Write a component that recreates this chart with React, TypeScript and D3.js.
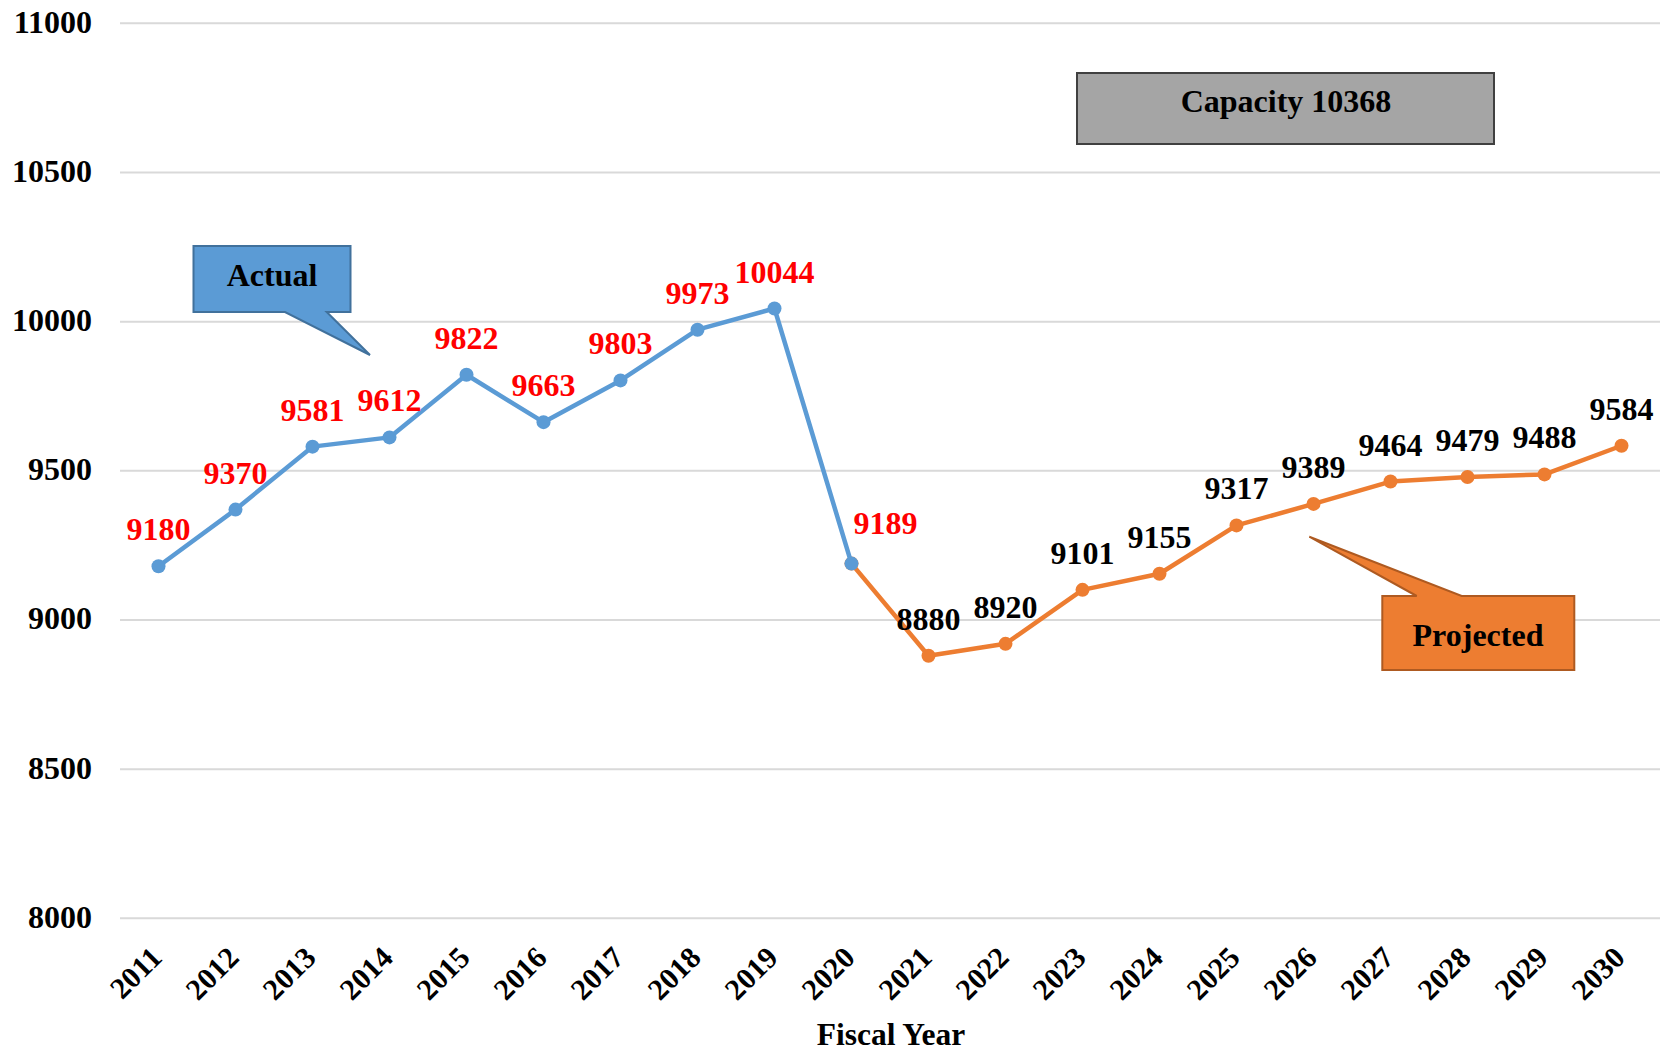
import React from "react";
import * as d3 from "d3";

const years = ["2011","2012","2013","2014","2015","2016","2017","2018","2019","2020","2021","2022","2023","2024","2025","2026","2027","2028","2029","2030"];
const actualYears = ["2011","2012","2013","2014","2015","2016","2017","2018","2019","2020"];
const actualValues = [9180, 9370, 9581, 9612, 9822, 9663, 9803, 9973, 10044, 9189];
const projectedYears = ["2020","2021","2022","2023","2024","2025","2026","2027","2028","2029","2030"];
const projectedValues = [9189, 8880, 8920, 9101, 9155, 9317, 9389, 9464, 9479, 9488, 9584];
const yTicks = [8000, 8500, 9000, 9500, 10000, 10500, 11000];
const capacityLabel = "Capacity 10368";
const xTitle = "Fiscal Year";

const FONT = "'Liberation Serif', 'Times New Roman', serif";
const BLUE = "#5B9BD5";
const ORANGE = "#ED7D31";

export default function App() {
  const W = 1669, H = 1052;
  const left = 120, right = 1660, top = 23.3, bottom = 918.3;
  const x = d3.scaleBand<string>().domain(years).range([left, right]).padding(0);
  const cx = (yr: string) => (x(yr) as number) + x.bandwidth() / 2;
  const y = d3.scaleLinear().domain([8000, 11000]).range([bottom, top]);

  const actual = actualYears.map((yr, i) => ({ yr, v: actualValues[i] }));
  const projected = projectedYears.map((yr, i) => ({ yr, v: projectedValues[i] }));
  const line = d3.line<{ yr: string; v: number }>().x(d => cx(d.yr)).y(d => y(d.v));

  return (
    <svg width={W} height={H} style={{ position: "absolute", left: 0, top: 0, background: "#fff" }} fontFamily={FONT}>
      {yTicks.map(t => (
        <g key={t}>
          <line x1={left} x2={right} y1={y(t)} y2={y(t)} stroke="#D9D9D9" strokeWidth={2} />
          <text x={92} y={y(t) + 9.5} textAnchor="end" fontSize={32} fontWeight="bold">{t}</text>
        </g>
      ))}
      {years.map(yr => (
        <text key={yr} transform={`translate(${cx(yr) + 5},${bottom + 41}) rotate(-45)`} textAnchor="end" fontSize={30} fontWeight="bold">{yr}</text>
      ))}
      <text x={891} y={1045} textAnchor="middle" fontSize={31.5} fontWeight="bold">{xTitle}</text>

      <path d={line(projected) as string} fill="none" stroke={ORANGE} strokeWidth={4.5} strokeLinejoin="round" />
      {projected.map(d => (
        <circle key={"p" + d.yr} cx={cx(d.yr)} cy={y(d.v)} r={7} fill={ORANGE} />
      ))}
      <path d={line(actual) as string} fill="none" stroke={BLUE} strokeWidth={4.5} strokeLinejoin="round" />
      {actual.map(d => (
        <circle key={"a" + d.yr} cx={cx(d.yr)} cy={y(d.v)} r={7} fill={BLUE} />
      ))}

      {actual.map(d => (
        <text key={"la" + d.yr} x={cx(d.yr) + (d.yr === "2020" ? 34 : 0)} y={y(d.v) - (d.yr === "2020" ? 30 : 26)} textAnchor="middle" fontSize={32} fontWeight="bold" fill="#FF0000">{d.v}</text>
      ))}
      {projected.slice(1).map(d => (
        <text key={"lp" + d.yr} x={cx(d.yr)} y={y(d.v) - 26} textAnchor="middle" fontSize={32} fontWeight="bold" fill="#000">{d.v}</text>
      ))}

      <rect x={1077} y={73} width={417} height={71} fill="#A5A5A5" stroke="#404040" strokeWidth={2} />
      <text x={1286} y={112} textAnchor="middle" fontSize={32} fontWeight="bold">{capacityLabel}</text>

      <path d="M 193.5 246 H 350.5 V 312 H 326.7 L 370 355 L 285 312 H 193.5 Z" fill={BLUE} stroke="#41719C" strokeWidth={2} />
      <text x={272} y={286} textAnchor="middle" fontSize={32} fontWeight="bold">Actual</text>

      <path d="M 1382.3 596 H 1416.7 L 1309.3 536.7 L 1461.7 596 H 1574.3 V 670 H 1382.3 Z" fill={ORANGE} stroke="#AE5A21" strokeWidth={2} />
      <text x={1478} y={646} textAnchor="middle" fontSize={32} fontWeight="bold">Projected</text>
    </svg>
  );
}
